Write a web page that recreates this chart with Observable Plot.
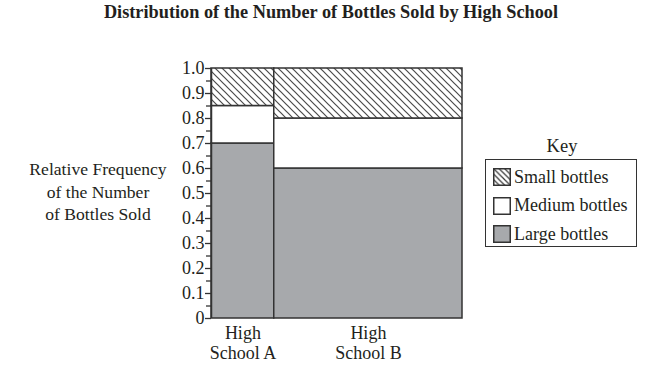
<!DOCTYPE html>
<html><head><meta charset="utf-8">
<script src="https://cdn.jsdelivr.net/npm/d3@7"></script>
<script src="https://cdn.jsdelivr.net/npm/@observablehq/plot@0.6"></script>
<style>
body{margin:0;background:#fff;}
#wrap{position:relative;width:672px;height:371px;font-family:"Liberation Serif","Times New Roman",serif;color:#231f20;overflow:hidden;}
#wrap svg.main{position:absolute;left:0;top:0;}
#title{position:absolute;left:0;width:662px;top:2px;text-align:center;font-weight:bold;font-size:18.3px;}
#ylab{position:absolute;left:18px;width:160px;top:158px;text-align:center;font-size:17.6px;line-height:22.5px;}
#keytitle{position:absolute;left:485px;width:154px;top:136px;text-align:center;font-size:18.5px;}
#key{position:absolute;left:485px;top:159px;width:150px;height:86px;border:1.5px solid #333;box-sizing:content-box;}
.item{position:absolute;left:7px;height:18px;display:flex;align-items:center;font-size:18px;white-space:nowrap;}
.item svg{margin-right:3px;flex:none;}
</style></head><body>
<div id="wrap">
  <div id="title">Distribution of the Number of Bottles Sold by High School</div>
  <div id="ylab">Relative Frequency<br>of the Number<br>of Bottles Sold</div>
  <div id="keytitle">Key</div>
  <div id="key"></div>
</div>
<script>
// ---- data ----
const schools = ["High School A", "High School B"];
const schoolLabels = ["High\nSchool A", "High\nSchool B"];
const schoolShare = [0.25, 0.75];           // width of each column (share of all bottles)
const sizes = ["Small bottles", "Medium bottles", "Large bottles"];
const largeShare = [0.70, 0.60];
const mediumShare = [0.15, 0.20];
const smallShare = [0.15, 0.20];
const yTicks = [0, 0.1, 0.2, 0.3, 0.4, 0.5, 0.6, 0.7, 0.8, 0.9, 1.0];
const yTickLabels = ["0", "0.1", "0.2", "0.3", "0.4", "0.5", "0.6", "0.7", "0.8", "0.9", "1.0"];
const yMinorTicks = [0.05, 0.15, 0.25, 0.35, 0.45, 0.55, 0.65, 0.75, 0.85, 0.95];
const sizeFills = ["url(#hatch)", "#ffffff", "#a7a9ac"];

// ---- build mosaic cells ----
const cells = [];
const cols = [];
let cx = 0;
schools.forEach((s, i) => {
  const x1 = cx, x2 = cx + schoolShare[i];
  cols.push({school: s, label: schoolLabels[i], mid: (x1 + x2) / 2});
  let y = 0;
  [["Large bottles", largeShare[i]], ["Medium bottles", mediumShare[i]], ["Small bottles", smallShare[i]]].forEach(([size, v]) => {
    cells.push({school: s, size, x1, x2, y1: y, y2: y + v});
    y += v;
  });
  cx = x2;
});

const font = '"Liberation Serif","Times New Roman",serif';
const plot = Plot.plot({
  width: 672, height: 371,
  marginTop: 68, marginBottom: 53, marginLeft: 211, marginRight: 210,
  x: {domain: [0, 1], axis: null},
  y: {domain: [0, 1], axis: null},
  color: {domain: sizes, range: sizeFills},
  style: {fontFamily: font, fontSize: "18px", color: "#231f20", background: "transparent", overflow: "visible"},
  marks: [
    Plot.rect(cells, {x1: "x1", x2: "x2", y1: "y1", y2: "y2", fill: "size", stroke: "#333", strokeWidth: 1.5}),
    Plot.axisY(yMinorTicks, {tickSize: 5, tickFormat: () => "", stroke: "#333", strokeWidth: 1.3}),
    Plot.axisY(yTicks, {tickSize: 6, tickPadding: 1, stroke: "#333", strokeWidth: 1.3,
      tickFormat: d => yTickLabels[Math.round(d * 10)], fontSize: 18, fill: "#231f20"}),
    Plot.ruleX([0], {stroke: "#333", strokeWidth: 1.5}),
    Plot.text(cols, {x: "mid", y: 0, text: "label", lineAnchor: "top", dy: 6, lineHeight: 1.12, fontSize: 18, fill: "#231f20"})
  ]
});
plot.classList.add("main");
const ns = "http://www.w3.org/2000/svg";
const defs = document.createElementNS(ns, "defs");
defs.innerHTML = '<pattern id="hatch" patternUnits="userSpaceOnUse" width="7" height="7">' +
  '<rect width="7" height="7" fill="#fff"/>' +
  '<path d="M0,0L7,7M-1,6L1,8M6,-1L8,1" stroke="#4a4a4a" stroke-width="1.2"/></pattern>' +
  '<pattern id="hatchkey" patternUnits="userSpaceOnUse" width="5.5" height="5.5">' +
  '<rect width="5.5" height="5.5" fill="#fff"/>' +
  '<path d="M0,0L5.5,5.5M-1,4.5L1,6.5M4.5,-1L6.5,1" stroke="#333" stroke-width="1.2"/></pattern>';
plot.insertBefore(defs, plot.firstChild);
document.getElementById("wrap").appendChild(plot);

// ---- legend ----
const key = document.getElementById("key");
const keyFills = ["url(#hatchkey)", "#ffffff", "#a7a9ac"];
sizes.forEach((s, i) => {
  const div = document.createElement("div");
  div.className = "item";
  div.style.top = (8 + i * 28.5) + "px";
  div.innerHTML = `<svg width="18" height="18"><rect x="0.75" y="0.75" width="16.5" height="16.5" fill="${keyFills[i]}" stroke="#333" stroke-width="1.5"/></svg><span>${s}</span>`;
  key.appendChild(div);
});
</script>
</body></html>
